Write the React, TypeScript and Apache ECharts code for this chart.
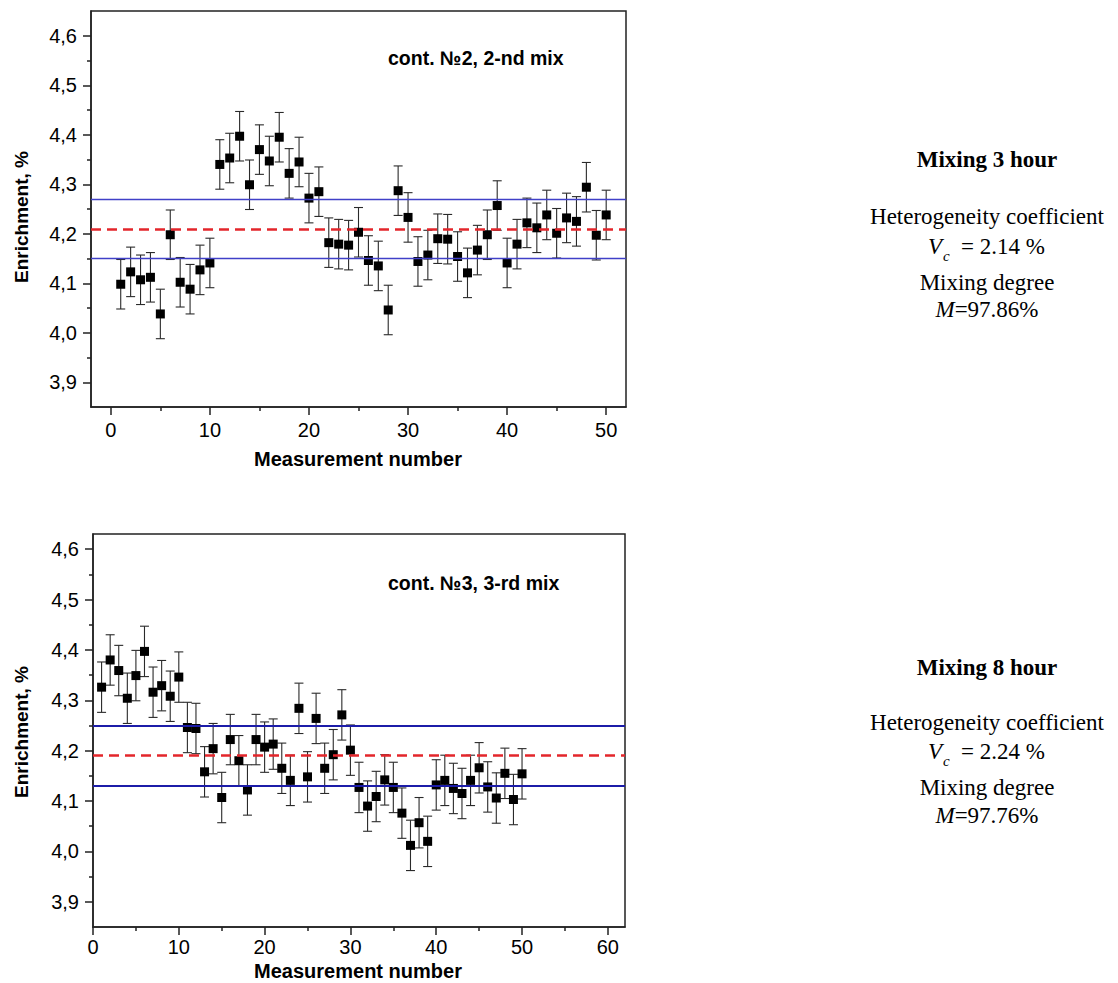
import React, { useEffect, useRef } from 'react';
import * as echarts from 'echarts';

// ---------- data ----------
const measurement = [
  1, 2, 3, 4, 5, 6, 7, 8, 9, 10,
  11, 12, 13, 14, 15, 16, 17, 18, 19, 20,
  21, 22, 23, 24, 25, 26, 27, 28, 29, 30,
  31, 32, 33, 34, 35, 36, 37, 38, 39, 40,
  41, 42, 43, 44, 45, 46, 47, 48, 49, 50,
];

const topEnrichment = [
  4.098, 4.123, 4.107, 4.112, 4.038, 4.198, 4.102, 4.088, 4.127, 4.141,
  4.340, 4.353, 4.397, 4.299, 4.370, 4.347, 4.395, 4.322, 4.345, 4.272,
  4.285, 4.182, 4.179, 4.177, 4.203, 4.146, 4.135, 4.046, 4.287, 4.233,
  4.144, 4.157, 4.190, 4.189, 4.154, 4.121, 4.167, 4.198, 4.257, 4.141,
  4.179, 4.222, 4.212, 4.238, 4.201, 4.232, 4.225, 4.294, 4.197, 4.238,
];
const topError = [
  0.05, 0.05, 0.05, 0.05, 0.05, 0.05, 0.05, 0.05, 0.05, 0.05,
  0.05, 0.05, 0.05, 0.05, 0.05, 0.05, 0.05, 0.05, 0.05, 0.05,
  0.05, 0.05, 0.05, 0.05, 0.05, 0.05, 0.05, 0.05, 0.05, 0.05,
  0.05, 0.05, 0.05, 0.05, 0.05, 0.05, 0.05, 0.05, 0.05, 0.05,
  0.05, 0.05, 0.05, 0.05, 0.05, 0.05, 0.05, 0.05, 0.05, 0.05,
];
const topLines = { upper: 4.272, mean: 4.207, lower: 4.149 };

const bottomEnrichment = [
  4.326, 4.380, 4.359, 4.304, 4.349, 4.397, 4.316, 4.329, 4.308, 4.346,
  4.246, 4.244, 4.158, 4.204, 4.107, 4.222, 4.180, 4.122, 4.222, 4.207,
  4.213, 4.165, 4.141, 4.284, 4.148, 4.264, 4.165, 4.192, 4.271, 4.201,
  4.127, 4.090, 4.109, 4.142, 4.127, 4.076, 4.012, 4.057, 4.020, 4.132,
  4.141, 4.125, 4.115, 4.141, 4.166, 4.128, 4.106, 4.155, 4.103, 4.154,
];
const bottomError = [
  0.05, 0.05, 0.05, 0.05, 0.05, 0.05, 0.05, 0.05, 0.05, 0.05,
  0.05, 0.05, 0.05, 0.05, 0.05, 0.05, 0.05, 0.05, 0.05, 0.05,
  0.05, 0.05, 0.05, 0.05, 0.05, 0.05, 0.05, 0.05, 0.05, 0.05,
  0.05, 0.05, 0.05, 0.05, 0.05, 0.05, 0.05, 0.05, 0.05, 0.05,
  0.05, 0.05, 0.05, 0.05, 0.05, 0.05, 0.05, 0.05, 0.05, 0.05,
];
const bottomLines = { upper: 4.25, mean: 4.192, lower: 4.133 };

const yMajorTicks = [3.9, 4.0, 4.1, 4.2, 4.3, 4.4, 4.5, 4.6];
const yMinorTicks = [3.95, 4.05, 4.15, 4.25, 4.35, 4.45, 4.55];
const topXMajorTicks = [0, 10, 20, 30, 40, 50];
const topXMinorTicks = [5, 15, 25, 35, 45];
const bottomXMajorTicks = [0, 10, 20, 30, 40, 50, 60];
const bottomXMinorTicks = [5, 15, 25, 35, 45, 55];

// ---------- styles ----------
const AXIS = '#222';
const SANS = 'Arial, "Liberation Sans", Helvetica, sans-serif';
const SERIF = '"Times New Roman", "Liberation Serif", serif';

function xAxes(gridIndex: number, min: number, max: number, major: number[], minor: number[], margin: number) {
  return [
    {
      type: 'value', gridIndex, min, max, position: 'bottom',
      axisLine: { show: true, onZero: false, lineStyle: { color: AXIS, width: 1.5 } },
      axisTick: { show: true, inside: false, length: 8, customValues: major, lineStyle: { color: AXIS, width: 1.5 } },
      axisLabel: { show: true, customValues: major, margin, fontSize: 20, color: '#000', fontFamily: SANS },
      splitLine: { show: false },
    },
    {
      type: 'value', gridIndex, min, max, position: 'bottom',
      axisLine: { show: false, onZero: false },
      axisTick: { show: true, inside: false, length: 4, customValues: minor, lineStyle: { color: AXIS, width: 1.5 } },
      axisLabel: { show: false },
      splitLine: { show: false },
    },
  ];
}

function yAxes(gridIndex: number, min: number, max: number) {
  return [
    {
      type: 'value', gridIndex, min, max, position: 'left',
      axisLine: { show: true, onZero: false, lineStyle: { color: AXIS, width: 1.5 } },
      axisTick: { show: true, inside: false, length: 8, customValues: yMajorTicks, lineStyle: { color: AXIS, width: 1.5 } },
      axisLabel: {
        show: true, customValues: yMajorTicks, margin: 14, fontSize: 20, color: '#000', fontFamily: SANS,
        formatter: (v: number) => v.toFixed(1).replace('.', ','),
      },
      splitLine: { show: false },
    },
    {
      type: 'value', gridIndex, min, max, position: 'left',
      axisLine: { show: false, onZero: false },
      axisTick: { show: true, inside: false, length: 4, customValues: yMinorTicks, lineStyle: { color: AXIS, width: 1.5 } },
      axisLabel: { show: false },
      splitLine: { show: false },
    },
  ];
}

function errorData(values: number[], errors: number[]) {
  return measurement.map((m, i) => [m, values[i] - errors[i], values[i] + errors[i]]);
}

function pointData(values: number[]) {
  return measurement.map((m, i) => [m, values[i]]);
}

const renderErrorBar = (params: any, api: any) => {
  const x = api.value(0);
  const lo = api.coord([x, api.value(1)]);
  const hi = api.coord([x, api.value(2)]);
  const w = 4.5;
  const style = { stroke: '#2a2a2a', lineWidth: 1.1 };
  return {
    type: 'group',
    children: [
      { type: 'line', shape: { x1: lo[0], y1: lo[1], x2: hi[0], y2: hi[1] }, style },
      { type: 'line', shape: { x1: lo[0] - w, y1: lo[1], x2: lo[0] + w, y2: lo[1] }, style },
      { type: 'line', shape: { x1: hi[0] - w, y1: hi[1], x2: hi[0] + w, y2: hi[1] }, style },
    ],
  };
};

function seriesFor(
  gridIdx: number, values: number[], errors: number[],
  lines: { upper: number; mean: number; lower: number }, blue: string, blueWidth: number,
) {
  const xIndex = gridIdx * 2;
  const yIndex = gridIdx * 2;
  return [
    {
      type: 'custom', xAxisIndex: xIndex, yAxisIndex: yIndex, z: 2,
      renderItem: renderErrorBar,
      encode: { x: 0, y: [1, 2] },
      data: errorData(values, errors),
      silent: true,
    },
    {
      type: 'scatter', xAxisIndex: xIndex, yAxisIndex: yIndex, z: 3,
      symbol: 'rect', symbolSize: 9,
      itemStyle: { color: '#000', opacity: 1 },
      data: pointData(values),
      silent: true,
      markLine: {
        silent: true, symbol: ['none', 'none'], label: { show: false }, z: 5,
        emphasis: { disabled: true },
        data: [
          { yAxis: lines.upper, lineStyle: { color: blue, width: blueWidth, type: 'solid' } },
          { yAxis: lines.mean, lineStyle: { color: '#e3262b', width: 2.5, type: [10, 6] } },
          { yAxis: lines.lower, lineStyle: { color: blue, width: blueWidth, type: 'solid' } },
        ],
      },
    },
  ];
}

function txt(text: string, x: number, y: number, opts: any = {}) {
  return {
    type: 'text', x, y, silent: true,
    rotation: opts.rotation || 0,
    style: {
      text,
      fontSize: opts.fontSize || 23,
      fontFamily: opts.fontFamily || SERIF,
      fontWeight: opts.fontWeight || 'normal',
      fontStyle: opts.fontStyle || 'normal',
      fill: '#000',
      align: opts.align || 'center',
      verticalAlign: 'middle',
      rich: opts.rich,
    },
  };
}

function infoBlock(title: string, vc: string, m: string, y0: number, dy: number[]) {
  const cx = 987;
  const yTitle = y0;
  const yHet = y0 + dy[0];
  const yVc = yHet + dy[1];
  const yMix = yVc + dy[2];
  const yM = yMix + dy[3];
  return [
    txt(title, cx, yTitle, { fontWeight: 'bold' }),
    txt('Heterogeneity coefficient', cx, yHet),
    txt('V', 928, yVc, { fontStyle: 'italic', align: 'left' }),
    txt('c', 943, yVc + 10, { fontStyle: 'italic', align: 'left', fontSize: 15 }),
    txt('= ' + vc, 961, yVc, { align: 'left' }),
    txt('Mixing degree', cx, yMix),
    txt('{i|M}{r|=' + m + '}', cx, yM, {
      rich: {
        i: { fontStyle: 'italic', fontSize: 23, fontFamily: SERIF, fill: '#000' },
        r: { fontSize: 23, fontFamily: SERIF, fill: '#000' },
      },
    }),
  ];
}

export default function App() {
  const ref = useRef<HTMLDivElement>(null);

  useEffect(() => {
    if (!ref.current) return;
    const chart = echarts.init(ref.current, null, { renderer: 'svg' });

    const option: any = {
      animation: false,
      backgroundColor: '#fff',
      grid: [
        { left: 91, top: 11, width: 535, height: 396, show: true, borderColor: AXIS, borderWidth: 1.5, backgroundColor: 'transparent' },
        { left: 93, top: 534, width: 532, height: 393, show: true, borderColor: AXIS, borderWidth: 1.5, backgroundColor: 'transparent' },
      ],
      xAxis: [
        ...xAxes(0, -2, 52, topXMajorTicks, topXMinorTicks, 13),
        ...xAxes(1, 0, 62, bottomXMajorTicks, bottomXMinorTicks, 10),
      ],
      yAxis: [
        ...yAxes(0, 3.85, 4.65),
        ...yAxes(1, 3.85, 4.63),
      ],
      series: [
        ...seriesFor(0, topEnrichment, topError, topLines, '#4040c8', 1.3),
        ...seriesFor(1, bottomEnrichment, bottomError, bottomLines, '#1c1ca8', 2),
      ],
      graphic: [
        txt('Enrichment, %', 21, 217, { fontFamily: SANS, fontWeight: 'bold', fontSize: 19, rotation: Math.PI / 2 }),
        txt('Enrichment, %', 21, 732, { fontFamily: SANS, fontWeight: 'bold', fontSize: 19, rotation: Math.PI / 2 }),
        txt('Measurement number', 358, 459, { fontFamily: SANS, fontWeight: 'bold', fontSize: 20 }),
        txt('Measurement number', 358, 971, { fontFamily: SANS, fontWeight: 'bold', fontSize: 20 }),
        txt('cont. №2, 2-nd mix', 388, 58, { fontFamily: SANS, fontWeight: 'bold', fontSize: 19.5, align: 'left' }),
        txt('cont. №3, 3-rd mix', 388, 583, { fontFamily: SANS, fontWeight: 'bold', fontSize: 19.5, align: 'left' }),
        ...infoBlock('Mixing 3 hour', '2.14 %', '97.86%', 159, [57, 30, 36, 27]),
        ...infoBlock('Mixing 8 hour', '2.24 %', '97.76%', 667, [55, 29, 36, 28]),
      ],
    };

    chart.setOption(option);
    return () => chart.dispose();
  }, []);

  return (
    <div
      ref={ref}
      style={{ position: 'absolute', left: 0, top: 0, width: 1118, height: 983, background: '#fff' }}
    />
  );
}
